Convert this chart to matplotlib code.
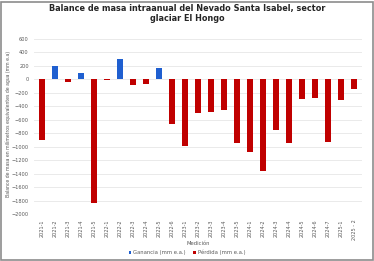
import numpy as np
import matplotlib.pyplot as plt
from matplotlib.patches import Rectangle

# mediciones y balances (mm e.a.)
labels = ["2021-1", "2021-2", "2021-3", "2021-4", "2021-5",
          "2022-1", "2022-2", "2022-3", "2022-4", "2022-5", "2022-6",
          "2023-1", "2023-2", "2023-3", "2023-4", "2023-5",
          "2024-1", "2024-2", "2024-3", "2024-4", "2024-5", "2024-6", "2024-7",
          "2025-1", "2025 - 2"]
ganancia = [0, 200, 0, 90, 0, 0, 300, 0, 0, 175, 0,
            0, 0, 0, 0, 0, 0, 0, 0, 0, 0, 0, 0, 0, 0]
perdida = [-900, 0, -35, 0, -1830, -10, 0, -90, -75, 0, -670,
           -990, -500, -480, -450, -950, -1075, -1365, -755, -950, -288, -278, -928,
           -303, -144]

blue = "#1f5fd0"
red = "#c00000"
gray = "#595959"

fig = plt.figure(figsize=(3.74, 2.61), dpi=100)
ax = fig.add_axes([0.092, 0.180, 0.876, 0.671])

x = np.arange(len(labels))
ax.bar(x, ganancia, width=0.45, color=blue, label="Ganancia (mm e.a.)", zorder=3)
ax.bar(x, perdida, width=0.45, color=red, label="Pérdida (mm e.a.)", zorder=3)

ax.set_ylim(-2000, 600)
ax.set_yticks(np.arange(-2000, 601, 200))
ax.set_xlim(-0.6, len(labels) - 0.4)
ax.set_xticks(x)
ax.set_xticklabels(labels, rotation=90, fontsize=3.6, color=gray)
ax.tick_params(axis="y", labelsize=3.6, labelcolor=gray, length=0, pad=4)
ax.tick_params(axis="x", length=0, pad=4)
ax.grid(axis="y", color="#e6e6e6", linewidth=0.6, zorder=0)
for s in ax.spines.values():
    s.set_visible(False)

fig.text(0.022, 0.525, "Balance de masa en milímetros equivalentes de agua (mm e.a)",
         fontsize=3.3, color=gray, rotation=90, ha="center", va="center")
fig.text(0.53, 0.068, "Medición", fontsize=3.8, color=gray, ha="center", va="center")

fig.suptitle("Balance de masa intraanual del Nevado Santa Isabel, sector\nglaciar El Hongo",
             fontsize=5.9, fontweight="bold", color="#262626", y=0.985, linespacing=1.15)

fig.legend(loc="center", bbox_to_anchor=(0.5, 0.032), ncol=2, frameon=False,
           fontsize=3.8, handlelength=0.5, handleheight=0.5, handletextpad=0.3,
           columnspacing=1.5, labelcolor=gray)

fig.patches.append(Rectangle((0.002, 0.004), 0.994, 0.99, transform=fig.transFigure,
                             fill=False, edgecolor="#8c8c8c", linewidth=1.2))

fig.savefig("out.png", dpi=100)
